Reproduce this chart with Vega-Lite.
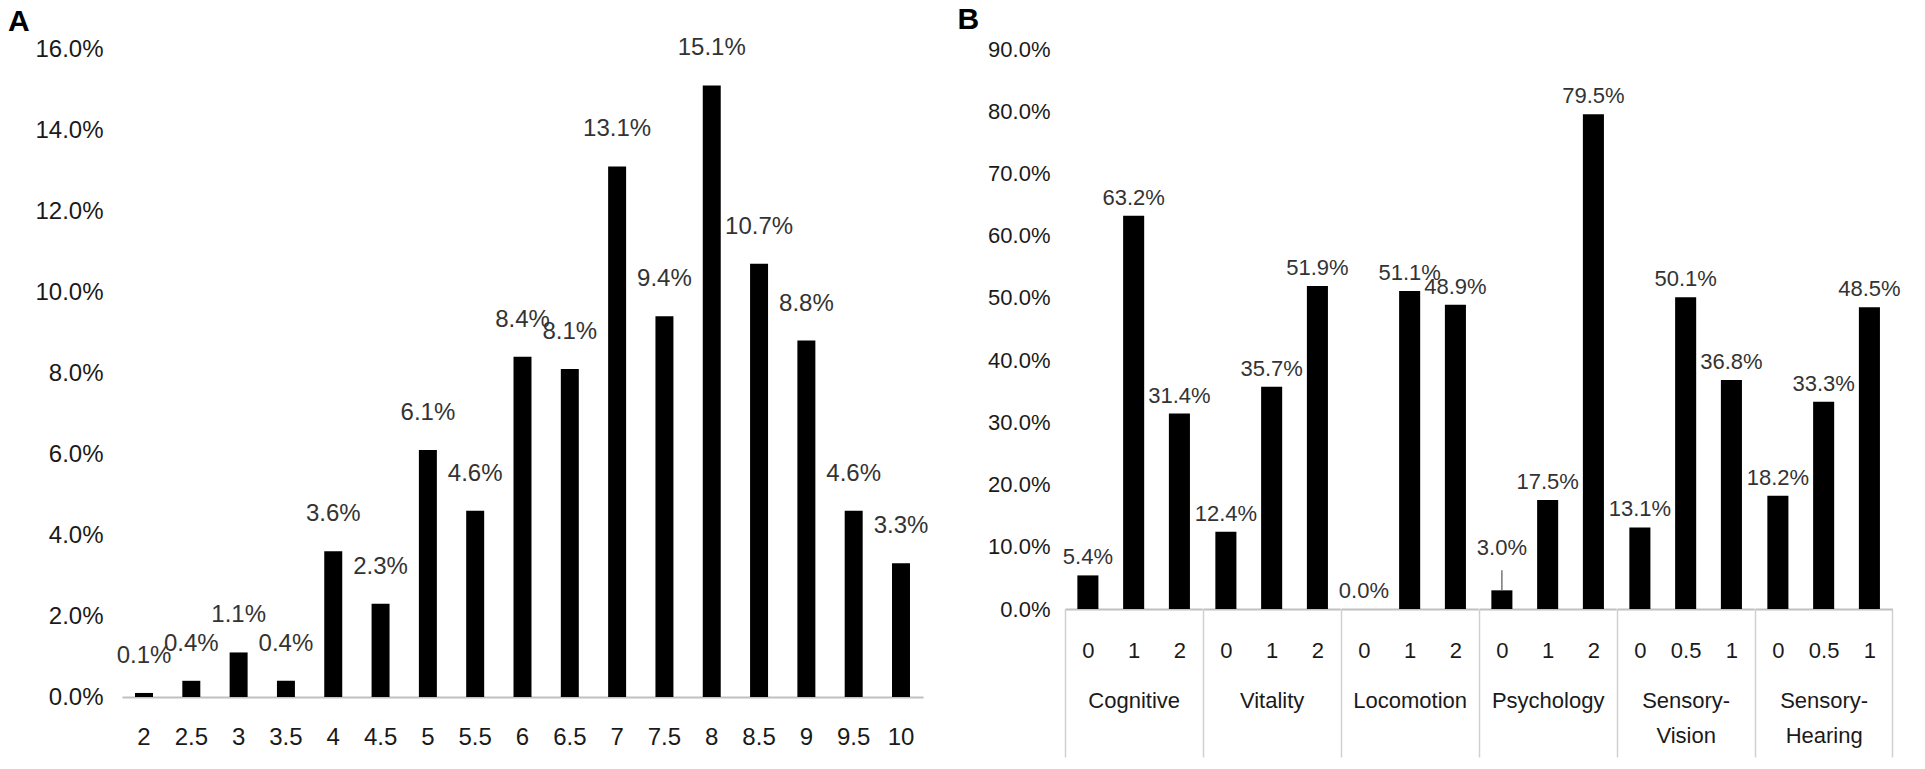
{
  "$schema": "https://vega.github.io/schema/vega-lite/v6.json",
  "background": "white",
  "padding": {"left": 7, "top": 5, "right": 0, "bottom": 0},
  "config": {
    "view": {"stroke": null},
    "font": "Liberation Sans",
    "axis": {"grid": false, "ticks": false, "domain": false, "labelFont": "Liberation Sans", "titleFont": "Liberation Sans", "labelColor": "#1a1a1a", "titleColor": "#1a1a1a"},
    "title": {"font": "Liberation Sans"}
  },
  "datasets": {
    "a": [
      {"score": "2", "value": 0.001},
      {"score": "2.5", "value": 0.004},
      {"score": "3", "value": 0.011},
      {"score": "3.5", "value": 0.004},
      {"score": "4", "value": 0.036},
      {"score": "4.5", "value": 0.023},
      {"score": "5", "value": 0.061},
      {"score": "5.5", "value": 0.046},
      {"score": "6", "value": 0.084},
      {"score": "6.5", "value": 0.081},
      {"score": "7", "value": 0.131},
      {"score": "7.5", "value": 0.094},
      {"score": "8", "value": 0.151},
      {"score": "8.5", "value": 0.107},
      {"score": "9", "value": 0.088},
      {"score": "9.5", "value": 0.046},
      {"score": "10", "value": 0.033}
    ],
    "b": [
      {"dimension": "Cognitive", "score": "0", "value": 0.054},
      {"dimension": "Cognitive", "score": "1", "value": 0.632},
      {"dimension": "Cognitive", "score": "2", "value": 0.314},
      {"dimension": "Vitality", "score": "0", "value": 0.124},
      {"dimension": "Vitality", "score": "1", "value": 0.357},
      {"dimension": "Vitality", "score": "2", "value": 0.519},
      {"dimension": "Locomotion", "score": "0", "value": 0.0},
      {"dimension": "Locomotion", "score": "1", "value": 0.511},
      {"dimension": "Locomotion", "score": "2", "value": 0.489},
      {"dimension": "Psychology", "score": "0", "value": 0.030},
      {"dimension": "Psychology", "score": "1", "value": 0.175},
      {"dimension": "Psychology", "score": "2", "value": 0.795},
      {"dimension": "Sensory-Vision", "score": "0", "value": 0.131},
      {"dimension": "Sensory-Vision", "score": "0.5", "value": 0.501},
      {"dimension": "Sensory-Vision", "score": "1", "value": 0.368},
      {"dimension": "Sensory-Hearing", "score": "0", "value": 0.182},
      {"dimension": "Sensory-Hearing", "score": "0.5", "value": 0.333},
      {"dimension": "Sensory-Hearing", "score": "1", "value": 0.485}
    ]
  },
  "spacing": 28,
  "hconcat": [
    {
      "title": {"text": "A", "anchor": "start", "fontSize": 30, "fontWeight": "bold", "color": "#000", "dx": -27, "offset": -25, "baseline": "alphabetic"},
      "width": 801,
      "height": 648,
      "data": {"name": "a"},
      "encoding": {
        "x": {"field": "score", "type": "ordinal", "sort": null, "scale": {"paddingInner": 0.62, "paddingOuter": 0.275},
              "axis": {"title": null, "labelAngle": 0, "labelFontSize": 24, "labelPadding": 28, "domain": true, "domainColor": "#c0c0c0", "domainWidth": 2}},
        "y": {"field": "value", "type": "quantitative", "scale": {"domain": [0, 0.16], "nice": false},
              "axis": {"title": null, "format": ".1%", "values": [0, 0.02, 0.04, 0.06, 0.08, 0.1, 0.12, 0.14, 0.16], "labelFontSize": 24, "labelPadding": 19}}
      },
      "layer": [
        {"mark": {"type": "bar", "color": "#000"}},
        {"mark": {"type": "text", "fontSize": 24, "color": "#333", "dy": -30, "baseline": "alphabetic"},
         "encoding": {"text": {"field": "value", "format": ".1%"}}}
      ]
    },
    {
      "title": {"text": "B", "anchor": "start", "fontSize": 30, "fontWeight": "bold", "color": "#000", "dx": -30, "offset": -21, "baseline": "alphabetic"},
      "spacing": 0,
      "bounds": "flush",
      "hconcat": [
        {
          "width": 137.3, "height": 560,
          "data": {"name": "b"},
          "transform": [{"filter": "datum.dimension === 'Cognitive'"}],
          "encoding": {
            "x": {"field": "score", "type": "ordinal", "sort": null, "scale": {"paddingInner": 0, "paddingOuter": 0},
                  "axis": {"title": "Cognitive", "labelAngle": 0, "labelFontSize": 22, "labelPadding": -117, "domain": true, "domainColor": "#c0c0c0", "domainWidth": 2, "ticks": true, "tickBand": "extent", "tickSize": 148, "tickColor": "#d0d0d0", "tickWidth": 1.5, "tickOpacity": {"condition": {"test": "datum.extra", "value": 1}, "value": 0}, "titleY": 81, "titleFontSize": 22, "titleFontWeight": "normal", "titleLineHeight": 35}},
            "y": {"field": "value", "type": "quantitative", "scale": {"domain": [0, 0.9], "nice": false},
                  "axis": {"title": null, "format": ".1%", "values": [0, 0.1, 0.2, 0.3, 0.4, 0.5, 0.6, 0.7, 0.8, 0.9], "labelFontSize": 22, "labelPadding": 15}}
          },
          "layer": [
            {"mark": {"type": "bar", "color": "#000", "width": {"band": 0.46}}},
            {"mark": {"type": "text", "fontSize": 22, "color": "#333", "dy": -11, "baseline": "alphabetic"},
             "encoding": {"text": {"field": "value", "format": ".1%"}}}
          ]
        },
        {
          "width": 137.3, "height": 560,
          "data": {"name": "b"},
          "transform": [{"filter": "datum.dimension === 'Vitality'"}],
          "encoding": {
            "x": {"field": "score", "type": "ordinal", "sort": null, "scale": {"paddingInner": 0, "paddingOuter": 0},
                  "axis": {"title": "Vitality", "labelAngle": 0, "labelFontSize": 22, "labelPadding": -117, "domain": true, "domainColor": "#c0c0c0", "domainWidth": 2, "ticks": true, "tickBand": "extent", "tickSize": 148, "tickColor": "#d0d0d0", "tickWidth": 1.5, "tickOpacity": {"condition": {"test": "datum.extra", "value": 1}, "value": 0}, "titleY": 81, "titleFontSize": 22, "titleFontWeight": "normal", "titleLineHeight": 35}},
            "y": {"field": "value", "type": "quantitative", "scale": {"domain": [0, 0.9], "nice": false}, "axis": null}
          },
          "layer": [
            {"mark": {"type": "bar", "color": "#000", "width": {"band": 0.46}}},
            {"mark": {"type": "text", "fontSize": 22, "color": "#333", "dy": -11, "baseline": "alphabetic"},
             "encoding": {"text": {"field": "value", "format": ".1%"}}}
          ]
        },
        {
          "width": 137.3, "height": 560,
          "data": {"name": "b"},
          "transform": [{"filter": "datum.dimension === 'Locomotion'"}],
          "encoding": {
            "x": {"field": "score", "type": "ordinal", "sort": null, "scale": {"paddingInner": 0, "paddingOuter": 0},
                  "axis": {"title": "Locomotion", "labelAngle": 0, "labelFontSize": 22, "labelPadding": -117, "domain": true, "domainColor": "#c0c0c0", "domainWidth": 2, "ticks": true, "tickBand": "extent", "tickSize": 148, "tickColor": "#d0d0d0", "tickWidth": 1.5, "tickOpacity": {"condition": {"test": "datum.extra", "value": 1}, "value": 0}, "titleY": 81, "titleFontSize": 22, "titleFontWeight": "normal", "titleLineHeight": 35}},
            "y": {"field": "value", "type": "quantitative", "scale": {"domain": [0, 0.9], "nice": false}, "axis": null}
          },
          "layer": [
            {"mark": {"type": "bar", "color": "#000", "width": {"band": 0.46}}},
            {"mark": {"type": "text", "fontSize": 22, "color": "#333", "dy": -11, "baseline": "alphabetic"},
             "encoding": {"text": {"field": "value", "format": ".1%"}}}
          ]
        },
        {
          "width": 137.3, "height": 560,
          "data": {"name": "b"},
          "transform": [{"filter": "datum.dimension === 'Psychology'"}],
          "encoding": {
            "x": {"field": "score", "type": "ordinal", "sort": null, "scale": {"paddingInner": 0, "paddingOuter": 0},
                  "axis": {"title": "Psychology", "labelAngle": 0, "labelFontSize": 22, "labelPadding": -117, "domain": true, "domainColor": "#c0c0c0", "domainWidth": 2, "ticks": true, "tickBand": "extent", "tickSize": 148, "tickColor": "#d0d0d0", "tickWidth": 1.5, "tickOpacity": {"condition": {"test": "datum.extra", "value": 1}, "value": 0}, "titleY": 81, "titleFontSize": 22, "titleFontWeight": "normal", "titleLineHeight": 35}},
            "y": {"field": "value", "type": "quantitative", "scale": {"domain": [0, 0.9], "nice": false}, "axis": null}
          },
          "layer": [
            {"mark": {"type": "bar", "color": "#000", "width": {"band": 0.46}}},
            {"transform": [{"filter": "datum.score !== '0'"}],
             "mark": {"type": "text", "fontSize": 22, "color": "#333", "dy": -11, "baseline": "alphabetic"},
             "encoding": {"text": {"field": "value", "format": ".1%"}}},
            {"transform": [{"filter": "datum.score === '0'"}],
             "mark": {"type": "text", "fontSize": 22, "color": "#333", "dy": -35, "baseline": "alphabetic"},
             "encoding": {"text": {"field": "value", "format": ".1%"}}},
            {"transform": [{"filter": "datum.score === '0'"}],
             "mark": {"type": "rule", "color": "#777", "strokeWidth": 1.5, "yOffset": 0, "y2Offset": -20},
             "encoding": {"y2": {"field": "value"}}}
          ]
        },
        {
          "width": 137.3, "height": 560,
          "data": {"name": "b"},
          "transform": [{"filter": "datum.dimension === 'Sensory-Vision'"}],
          "encoding": {
            "x": {"field": "score", "type": "ordinal", "sort": null, "scale": {"paddingInner": 0, "paddingOuter": 0},
                  "axis": {"title": ["Sensory-", "Vision"], "labelAngle": 0, "labelFontSize": 22, "labelPadding": -117, "domain": true, "domainColor": "#c0c0c0", "domainWidth": 2, "ticks": true, "tickBand": "extent", "tickSize": 148, "tickColor": "#d0d0d0", "tickWidth": 1.5, "tickOpacity": {"condition": {"test": "datum.extra", "value": 1}, "value": 0}, "titleY": 81, "titleFontSize": 22, "titleFontWeight": "normal", "titleLineHeight": 35}},
            "y": {"field": "value", "type": "quantitative", "scale": {"domain": [0, 0.9], "nice": false}, "axis": null}
          },
          "layer": [
            {"mark": {"type": "bar", "color": "#000", "width": {"band": 0.46}}},
            {"mark": {"type": "text", "fontSize": 22, "color": "#333", "dy": -11, "baseline": "alphabetic"},
             "encoding": {"text": {"field": "value", "format": ".1%"}}}
          ]
        },
        {
          "width": 137.3, "height": 560,
          "data": {"name": "b"},
          "transform": [{"filter": "datum.dimension === 'Sensory-Hearing'"}],
          "encoding": {
            "x": {"field": "score", "type": "ordinal", "sort": null, "scale": {"paddingInner": 0, "paddingOuter": 0},
                  "axis": {"title": ["Sensory-", "Hearing"], "labelAngle": 0, "labelFontSize": 22, "labelPadding": -117, "domain": true, "domainColor": "#c0c0c0", "domainWidth": 2, "ticks": true, "tickBand": "extent", "tickSize": 148, "tickColor": "#d0d0d0", "tickWidth": 1.5, "tickOpacity": {"condition": {"test": "datum.extra || datum.value === '1'", "value": 1}, "value": 0}, "titleY": 81, "titleFontSize": 22, "titleFontWeight": "normal", "titleLineHeight": 35}},
            "y": {"field": "value", "type": "quantitative", "scale": {"domain": [0, 0.9], "nice": false}, "axis": null}
          },
          "layer": [
            {"mark": {"type": "bar", "color": "#000", "width": {"band": 0.46}}},
            {"mark": {"type": "text", "fontSize": 22, "color": "#333", "dy": -11, "baseline": "alphabetic"},
             "encoding": {"text": {"field": "value", "format": ".1%"}}}
          ]
        }
      ]
    }
  ]
}
